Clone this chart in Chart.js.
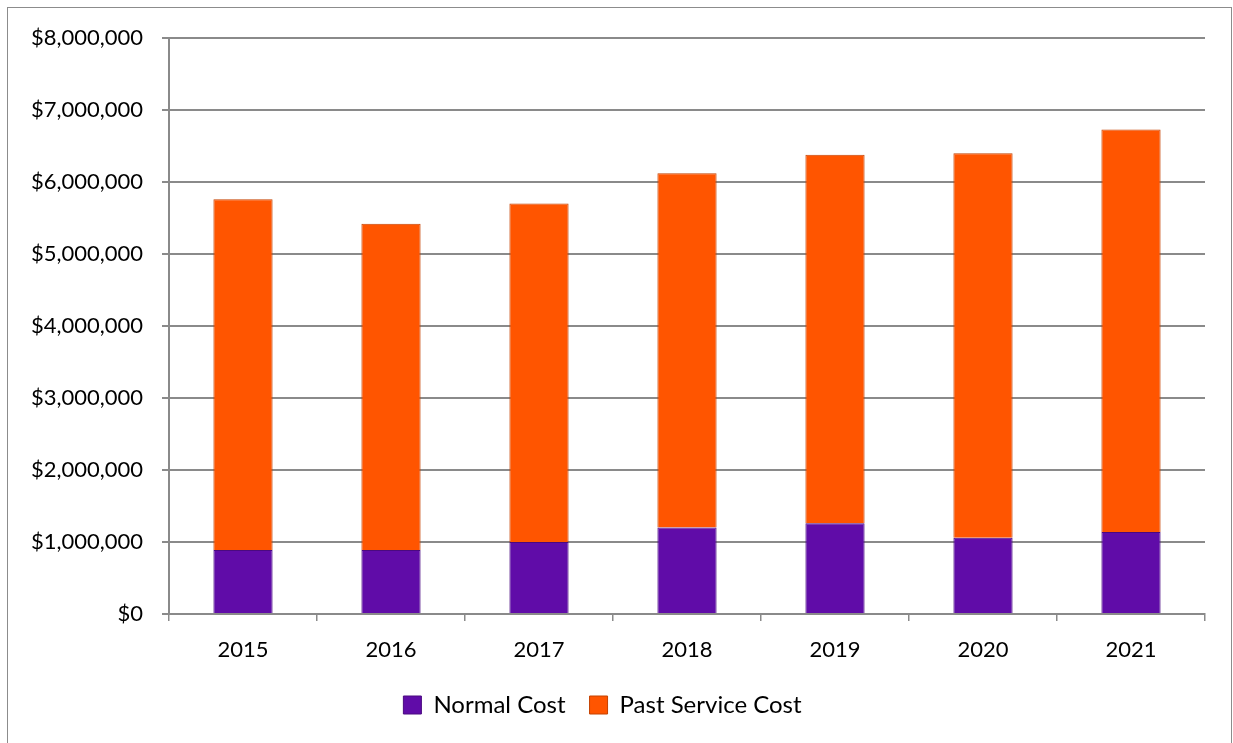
<!DOCTYPE html>
<html>
<head>
<meta charset="utf-8">
<script src="https://cdn.jsdelivr.net/npm/chart.js@4.4.1/dist/chart.umd.min.js"></script>
<style>
  html, body { margin: 0; padding: 0; background: #fff; }
  #wrap { width: 1233px; height: 743px; }
</style>
</head>
<body>
<div id="wrap"><canvas id="cost-chart" width="1233" height="743"></canvas></div>
<script>
const years = ['2015', '2016', '2017', '2018', '2019', '2020', '2021'];
const normalCost = [890000, 890000, 1000000, 1200000, 1260000, 1060000, 1140000];
const pastServiceCost = [4870000, 4530000, 4700000, 4920000, 5120000, 5340000, 5590000];
const yTicks = [0, 1000000, 2000000, 3000000, 4000000, 5000000, 6000000, 7000000, 8000000];

const gridGrey = '#8a8a8a';
const tickFont = { family: 'Lato', size: 22 };

// outer frame like the spreadsheet chart box
const framePlugin = {
  id: 'frame',
  afterDraw(chart) {
    const c = chart.ctx;
    c.save();
    c.strokeStyle = '#8c8c8c';
    c.lineWidth = 1;
    c.strokeRect(7.5, 7.5, 1224, 745);
    c.restore();
  }
};

new Chart(document.getElementById('cost-chart'), {
  type: 'bar',
  data: {
    labels: years,
    datasets: [
      { label: 'Normal Cost', data: normalCost, backgroundColor: '#600ca8', borderColor: '#4a0a80', borderWidth: 1, categoryPercentage: 1, barPercentage: 0.4 },
      { label: 'Past Service Cost', data: pastServiceCost, backgroundColor: '#ff5500', borderColor: '#c44200', borderWidth: 1, categoryPercentage: 1, barPercentage: 0.4 }
    ]
  },
  options: {
    responsive: false,
    animation: false,
    layout: { padding: { top: 38, right: 28, left: 0, bottom: 16 } },
    plugins: {
      tooltip: { enabled: false },
      legend: {
        position: 'bottom',
        labels: { color: '#000', font: { family: 'Lato', size: 24 }, boxWidth: 18, boxHeight: 18, padding: 24 }
      }
    },
    scales: {
      x: {
        stacked: true,
        grid: { drawOnChartArea: false, drawTicks: true, tickLength: 7, color: gridGrey, lineWidth: 1.5, offset: true },
        border: { color: gridGrey, width: 2 },
        ticks: { color: '#000', font: tickFont, padding: 16 },
        afterFit(s) { s.height = 55; }
      },
      y: {
        stacked: true,
        min: 0,
        max: 8000000,
        afterBuildTicks(s) { s.ticks = yTicks.map(v => ({ value: v })); },
        grid: { color: gridGrey, lineWidth: 2, tickLength: 7 },
        border: { color: gridGrey, width: 2 },
        ticks: {
          color: '#000',
          font: tickFont,
          padding: 19,
          callback: v => '$' + Number(v).toLocaleString('en-US')
        },
        afterFit(s) { s.width = 169; }
      }
    }
  },
  plugins: [framePlugin]
});
</script>
</body>
</html>
